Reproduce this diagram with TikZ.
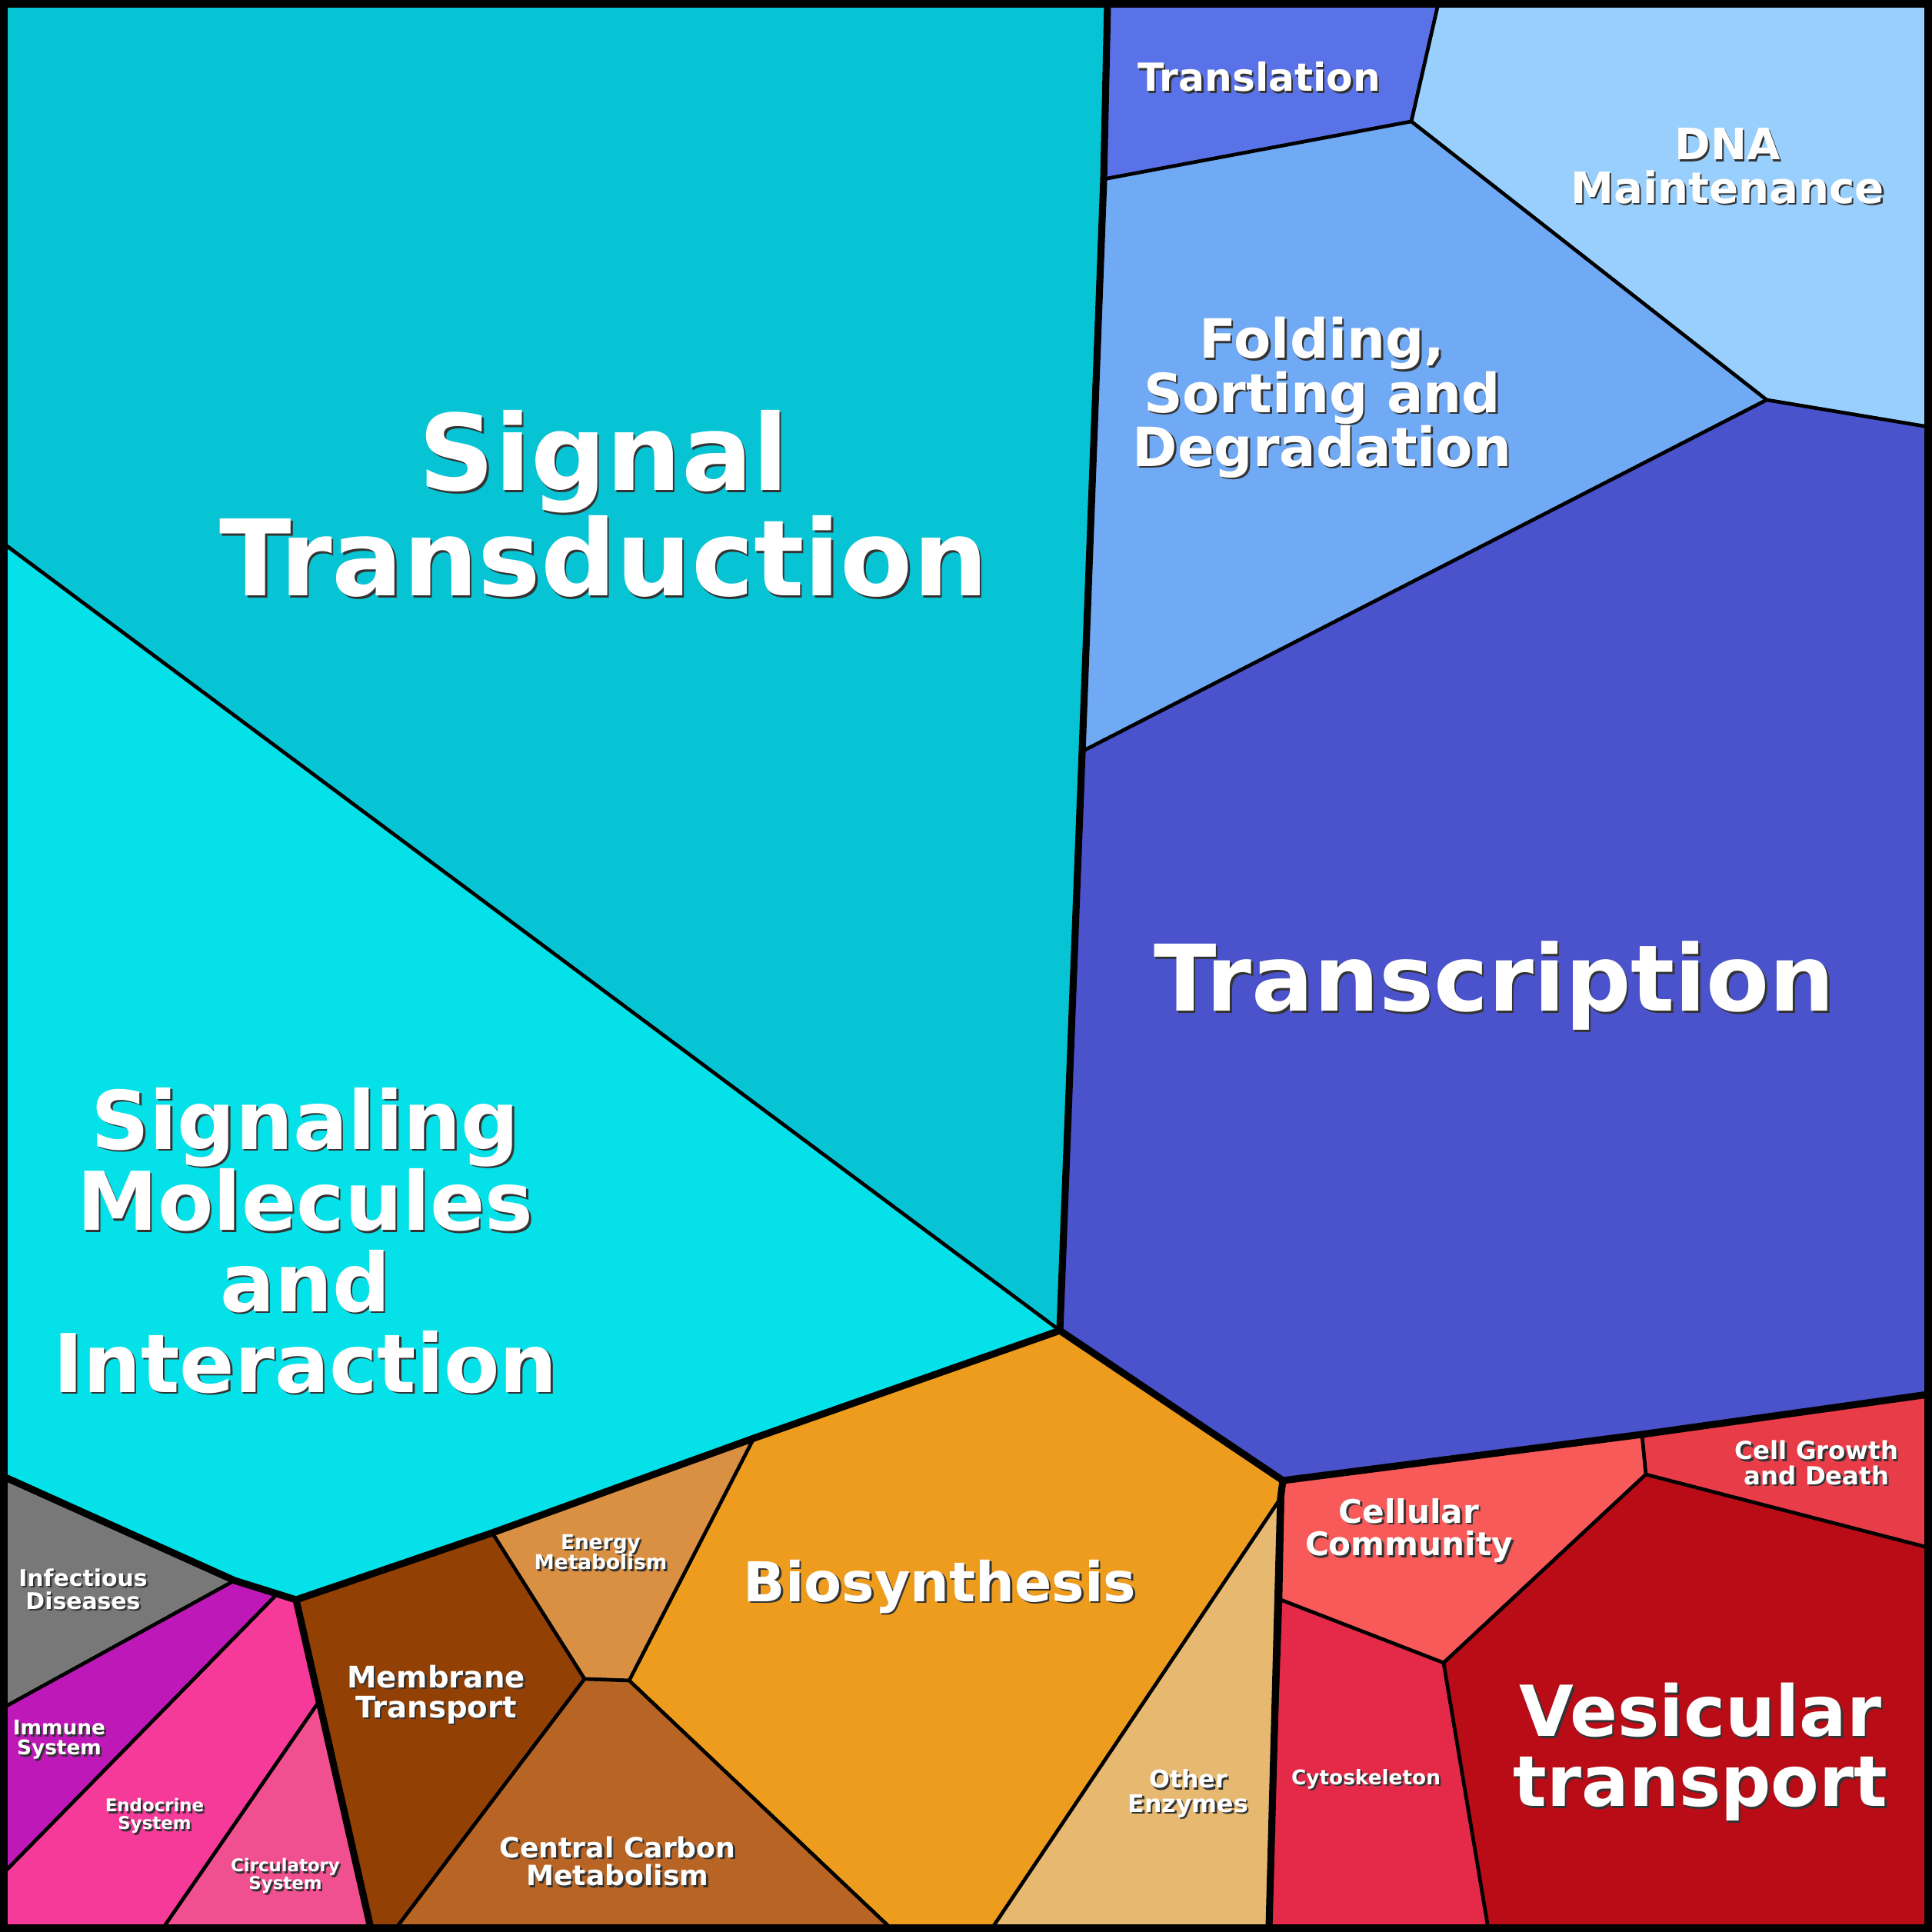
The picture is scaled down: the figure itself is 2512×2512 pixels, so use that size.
\documentclass[tikz,border=0pt]{standalone}
\usepackage{fontspec}
\setmainfont{DejaVu Sans}
\begin{document}
\begin{tikzpicture}[x=0.1mm,y=-0.1mm,
  cell/.style={draw=black,line width=1.3pt,line join=round},
  grp/.style={draw=black,line width=2.6pt,line join=round},
  lbl/.style={text=white,align=center,inner sep=0pt},
  shd/.style={text=black!80,align=center,inner sep=0pt,xshift=0.7pt,yshift=-0.7pt}]
\newcommand\lab[4]{%
  \node[shd,font=\fontsize{#3}{#3}\bfseries] at (#2) {#4};
  \node[lbl,font=\fontsize{#3}{#3}\bfseries] (#1) at (#2) {#4};}
\useasboundingbox (0,0) rectangle (2512,2512);
\fill[black] (0,0) rectangle (2512,2512);
% cells
\filldraw[cell,fill={rgb,255:red,6;green,196;blue,212}] (5,5)--(1440,5)--(1435,233)--(1407,977)--(1378,1730)--(5,707)--cycle;
\filldraw[cell,fill={rgb,255:red,5;green,225;blue,232}] (5,707)--(1378,1730)--(980,1870)--(640,1993)--(385,2080)--(305,2055)--(5,1920)--cycle;
\filldraw[cell,fill={rgb,255:red,90;green,114;blue,232}] (1440,5)--(1870,5)--(1835,158)--(1435,233)--cycle;
\filldraw[cell,fill={rgb,255:red,152;green,207;blue,253}] (1870,5)--(2507,5)--(2507,555)--(2297,520)--(1835,158)--cycle;
\filldraw[cell,fill={rgb,255:red,112;green,169;blue,244}] (1435,233)--(1835,158)--(2297,520)--(1407,977)--cycle;
\filldraw[cell,fill={rgb,255:red,74;green,82;blue,204}] (1407,977)--(2297,520)--(2507,555)--(2507,1813)--(2135,1865)--(1668,1925)--(1378,1730)--cycle;
\filldraw[cell,fill={rgb,255:red,238;green,156;blue,30}] (980,1870)--(1378,1730)--(1668,1925)--(1665,1948)--(1290,2507)--(1158,2507)--(818,2185)--cycle;
\filldraw[cell,fill={rgb,255:red,218;green,144;blue,66}] (640,1993)--(980,1870)--(818,2185)--(760,2183)--cycle;
\filldraw[cell,fill={rgb,255:red,146;green,64;blue,4}] (385,2080)--(640,1993)--(760,2183)--(515,2507)--(482,2507)--cycle;
\filldraw[cell,fill={rgb,255:red,184;green,100;blue,36}] (760,2183)--(818,2185)--(1158,2507)--(515,2507)--cycle;
\filldraw[cell,fill={rgb,255:red,230;green,184;blue,112}] (1665,1948)--(1650,2507)--(1290,2507)--cycle;
\filldraw[cell,fill={rgb,255:red,247;green,90;blue,88}] (1668,1925)--(2135,1865)--(2140,1917)--(1877,2162)--(1665,2080)--cycle;
\filldraw[cell,fill={rgb,255:red,228;green,42;blue,72}] (1665,2080)--(1877,2162)--(1935,2507)--(1650,2507)--cycle;
\filldraw[cell,fill={rgb,255:red,185;green,12;blue,22}] (1877,2162)--(2140,1917)--(2507,2012)--(2507,2507)--(1935,2507)--cycle;
\filldraw[cell,fill={rgb,255:red,232;green,60;blue,72}] (2135,1865)--(2507,1813)--(2507,2012)--(2140,1917)--cycle;
\filldraw[cell,fill={rgb,255:red,120;green,120;blue,120}] (5,1920)--(305,2055)--(5,2220)--cycle;
\filldraw[cell,fill={rgb,255:red,190;green,24;blue,184}] (5,2220)--(305,2055)--(360,2073)--(5,2435)--cycle;
\filldraw[cell,fill={rgb,255:red,245;green,58;blue,154}] (5,2435)--(360,2073)--(385,2080)--(415,2212)--(212,2507)--(5,2507)--cycle;
\filldraw[cell,fill={rgb,255:red,240;green,80;blue,144}] (415,2212)--(482,2507)--(212,2507)--cycle;
% group borders
\draw[grp] (1440,5)--(1435,233)--(1407,977)--(1378,1730);
\draw[grp] (5,1920)--(305,2055)--(385,2080)--(482,2507);
\draw[grp] (385,2080)--(640,1993)--(980,1870)--(1378,1730)--(1668,1925)--(1665,1948)--(1650,2507);
\draw[grp] (1668,1925)--(2135,1865)--(2507,1813);
\draw[black,line width=4pt] (3,3) rectangle (2509,2509);
% labels
\lab{st}{785,655}{39pt}{Signal\\Transduction}
\lab{sm}{397,1613}{30pt}{Signaling\\Molecules\\and\\Interaction}
\lab{tc}{1943,1282}{34pt}{Transcription}
\lab{fo}{1719,517}{20pt}{Folding,\\Sorting and\\Degradation}
\lab{tl}{1637,100}{14.3pt}{Translation}
\lab{dn}{2246,216}{16pt}{DNA\\Maintenance}
\lab{bi}{1222,2063}{20.3pt}{Biosynthesis}
\lab{ve}{2211,2278}{26pt}{Vesicular\\transport}
\lab{cc}{1832,1990}{12pt}{Cellular\\Community}
\lab{cg}{2362,1902}{9.2pt}{Cell Growth\\and Death}
\lab{cy}{1776,2313}{7.5pt}{Cytoskeleton}
\lab{oe}{1545,2332}{9pt}{Other\\Enzymes}
\lab{mt}{567,2203}{11pt}{Membrane\\Transport}
\lab{cm}{803,2420}{10.3pt}{Central Carbon\\Metabolism}
\lab{em}{781,2018}{7.5pt}{Energy\\Metabolism}
\lab{id}{108,2066}{8.5pt}{Infectious\\Diseases}
\lab{im}{77,2262}{7.5pt}{Immune\\System}
\lab{en}{201,2361}{6.5pt}{Endocrine\\System}
\lab{ci}{371,2439}{6.5pt}{Circulatory\\System}
\end{tikzpicture}
\end{document}
